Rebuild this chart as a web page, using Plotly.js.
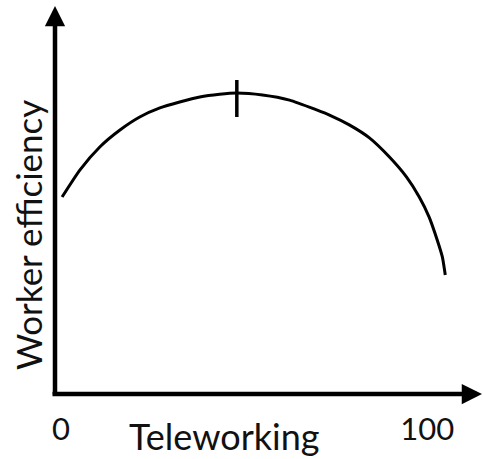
<!DOCTYPE html>
<html>
<head>
<meta charset="utf-8">
<script src="https://cdn.plot.ly/plotly-3.0.1.min.js"></script>
<style>html,body{margin:0;padding:0;background:#fff;}#chart{width:483px;height:459px;}</style>
</head>
<body>
<div id="chart"></div>
<script>
// Curve (x: teleworking share, y: worker efficiency, arbitrary units)
const teleworking = [0.3, 5.2, 10.6, 16.1, 21.5, 27.0, 32.4, 37.9, 43.3, 48.0, 55.0, 62.4, 69.8, 73.3, 78.7, 84.2, 89.6, 94.3, 97.8, 100.5, 102.7, 104.1, 104.9];
const efficiency  = [50.0, 56.9, 62.7, 67.0, 70.3, 72.6, 74.1, 75.4, 76.1, 76.4, 75.9, 74.6, 72.1, 70.8, 68.3, 65.0, 60.2, 55.1, 50.0, 44.9, 39.1, 34.8, 30.2];
// Peak marker (short vertical tick)
const peakX = [48.0, 48.0];
const peakY = [70.3, 79.7];
// Axis tick labels
const tickVals = [0, 100];
const tickText = ["0", "100"];
const xTitle = "Teleworking";
const yTitle = "Worker efficiency";

const FONT = "Lato, 'Open Sans', sans-serif";

const data = [
  {x: teleworking, y: efficiency, mode: "lines", line: {color: "#000", width: 3, shape: "spline", smoothing: 0.6}, hoverinfo: "skip"},
  {x: peakX, y: peakY, mode: "lines", line: {color: "#000", width: 3.5}, hoverinfo: "skip"}
];

const layout = {
  width: 483, height: 459,
  margin: {l: 55, r: 0, t: 0, b: 65, pad: 0},
  paper_bgcolor: "#fff", plot_bgcolor: "#fff",
  showlegend: false,
  font: {family: FONT, color: "#111"},
  xaxis: {
    range: [-1.63, 115.2], showgrid: false, zeroline: false, showline: false,
    tickvals: tickVals, ticktext: tickText, ticks: "", ticklabelstandoff: 14,
    tickfont: {family: FONT, size: 31, color: "#111"}, fixedrange: true
  },
  yaxis: {
    range: [0, 100], showgrid: false, zeroline: false, showline: false,
    showticklabels: false, ticks: "", fixedrange: true
  },
  annotations: [
    {xref: "paper", yref: "paper", x: 0, y: 0.985, ax: 0, ay: 390, axref: "pixel", ayref: "pixel",
     showarrow: true, arrowhead: 2, arrowsize: 0.9, arrowwidth: 4.5, arrowcolor: "#000", standoff: 0, text: ""},
    {xref: "paper", yref: "paper", x: 1, y: 0, ax: -432, ay: 0, axref: "pixel", ayref: "pixel",
     showarrow: true, arrowhead: 2, arrowsize: 0.9, arrowwidth: 4.5, arrowcolor: "#000", standoff: 0, text: ""},
    {xref: "paper", yref: "paper", x: (224 - 55) / 428, y: -(436 - 394) / 394, xanchor: "center", yanchor: "middle",
     showarrow: false, text: xTitle, font: {family: FONT, size: 36, color: "#111"}},
    {xref: "paper", yref: "paper", x: -(55 - 28) / 428, y: (394 - 235) / 394, xanchor: "center", yanchor: "middle",
     showarrow: false, textangle: -90, text: yTitle, font: {family: FONT, size: 35, color: "#111"}}
  ]
};

Plotly.newPlot("chart", data, layout, {displayModeBar: false, staticPlot: true});
</script>
</body>
</html>
